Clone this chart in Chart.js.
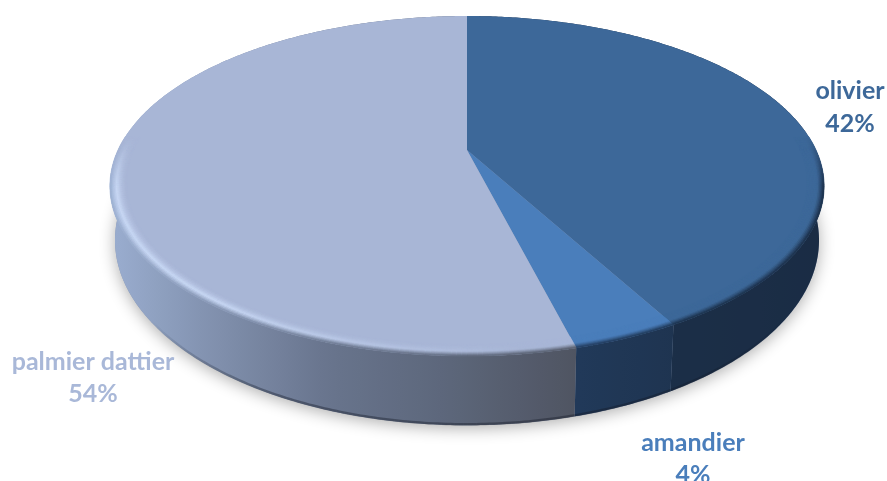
<!DOCTYPE html>
<html lang="fr">
<head>
  <meta charset="UTF-8" />
  <title>Répartition des arbres</title>
  <script src="https://cdn.jsdelivr.net/npm/chart.js"></script>
  <style>
    body { margin: 0; background: #fff; }
    canvas { display: block; }
  </style>
</head>
<body>
  <canvas id="pieChart" width="887" height="481"></canvas>

  <script>
    const categories = ["olivier", "amandier", "palmier dattier"];
    const shares = [42, 4, 54];
    const sliceColors = ["#3d6899", "#4a7ebb", "#a8b6d6"];
    const labelColors = ["#3d6899", "#4a7ebb", "#a9b8d8"];

    // perspective disc: top face and the (slightly smaller, lower) bottom face
    const K = -0.212;
    const topFace = { cx: 467, cy: 150, rx: 349, ry: 162.4 };
    const bottomFace = { cx: 467, cy: 201, rx: 344, ry: 176.7 };
    const BEVEL = 0.046;

    // label centres for each category: [x, first line y, second line y]
    const labelSpots = [[850, 91, 124], [693, 443, 475], [93, 362, 394]];

    const wallStops = [
      [ // olivier
        [560, [28, 48, 74]], [830, [26, 44, 68]]
      ],
      [ // amandier
        [570, [33, 57, 90]], [680, [30, 52, 80]]
      ],
      [ // palmier dattier
        [110, [154, 174, 208]], [200, [132, 148, 178]], [330, [104, 116, 140]],
        [450, [92, 102, 122]], [585, [78, 83, 96]]
      ]
    ];

    function clamp(a) { return Math.max(0, Math.min(1, a)); }
    function mix(a, b, t) { return a.map((c, i) => c + (b[i] - c) * t); }
    function rgb(c) { return `rgb(${c.map(Math.round).join(",")})`; }
    function hexRgb(h) { return [1, 3, 5].map(i => parseInt(h.substr(i, 2), 16)); }

    function wallAt(index, x) {
      const s = wallStops[index];
      if (x <= s[0][0]) return s[0][1];
      for (let i = 1; i < s.length; i++) {
        if (x <= s[i][0]) return mix(s[i - 1][1], s[i][1], (x - s[i - 1][0]) / (s[i][0] - s[i - 1][0]));
      }
      return s[s.length - 1][1];
    }

    function project(face, theta, r) {
      const u = r * Math.sin(theta), v = -r * Math.cos(theta), d = 1 + K * v;
      return [face.cx + face.rx * u / d, face.cy + face.ry * v / d];
    }

    function tracePath(ctx, pts) {
      ctx.beginPath();
      pts.forEach((p, i) => i ? ctx.lineTo(p[0], p[1]) : ctx.moveTo(p[0], p[1]));
      ctx.closePath();
    }

    function sweep(a, b, step) {
      const out = [];
      const n = Math.max(2, Math.ceil((b - a) / step));
      for (let i = 0; i <= n; i++) out.push(a + (b - a) * i / n);
      return out;
    }

    function drawWall(ctx, index, a, b) {
      const angles = sweep(a, b, 0.01);
      const upper = angles.map(t => project(topFace, t, 1));
      const lower = angles.map(t => project(bottomFace, t, 1));
      const g = ctx.createLinearGradient(100, 0, 840, 0);
      for (let x = 100; x <= 840; x += 20) g.addColorStop((x - 100) / 740, rgb(wallAt(index, x)));
      tracePath(ctx, upper.concat(lower.reverse()));
      ctx.fillStyle = g;
      ctx.fill();

      // darker lip along the lower edge, only towards the front
      for (let i = 0; i < angles.length - 1; i++) {
        const tm = (angles[i] + angles[i + 1]) / 2;
        const p0 = project(bottomFace, angles[i], 1), p1 = project(bottomFace, angles[i + 1], 1);
        ctx.beginPath();
        ctx.moveTo(p0[0], p0[1] - 1);
        ctx.lineTo(p1[0], p1[1] - 1);
        ctx.strokeStyle = `rgba(20,26,38,${0.4 * clamp((-Math.cos(tm) - 0.6) / 0.3)})`;
        ctx.lineWidth = 2.5;
        ctx.stroke();
      }
    }

    function drawBevel(ctx, index, a, b, face) {
      const glint = [206, 222, 250];
      const layers = 12;
      const angles = sweep(a, b, 0.012);
      for (let i = 0; i < angles.length - 1; i++) {
        const t0 = angles[i], t1 = angles[i + 1], tm = (t0 + t1) / 2;
        const front = clamp((-Math.cos(tm) + 0.08) / 0.3);
        if (front <= 0) continue;
        const deg = tm * 180 / Math.PI;
        const lit = index === 2 ? clamp((deg - 172) / 45) * clamp((305 - deg) / 40) : 0;
        for (let l = 0; l < layers; l++) {
          const t = (l + 0.5) / layers;
          const r0 = 1 - BEVEL * (1 - l / layers), r1 = 1 - BEVEL * (1 - (l + 1) / layers);
          const mid = project(topFace, tm, (r0 + r1) / 2);
          let c = mix(face, glint, lit * clamp(t / 0.6) ** 2 * 0.85);
          c = mix(c, wallAt(index, mid[0]), clamp((t - 0.6) / 0.4) ** 1.2);
          c = mix(face, c, front);
          const pts = [project(topFace, t0, r0), project(topFace, t1, r0), project(topFace, t1, r1), project(topFace, t0, r1)];
          tracePath(ctx, pts);
          ctx.fillStyle = ctx.strokeStyle = rgb(c);
          ctx.lineWidth = 0.6;
          ctx.fill();
          ctx.stroke();
        }
      }
    }

    const disc3d = {
      id: "disc3d",
      beforeDatasetsDraw(chart) {
        const ctx = chart.ctx;
        const arcs = chart.getDatasetMeta(0).data.map((arc, i) => ({
          index: i,
          a: arc.startAngle + Math.PI / 2,
          b: arc.endAngle + Math.PI / 2
        }));

        // soft shadow under the disc
        ctx.save();
        ctx.shadowColor = "rgba(0,0,0,0.32)";
        ctx.shadowBlur = 16;
        ctx.shadowOffsetY = 3;
        ctx.fillStyle = "#8896b0";
        tracePath(ctx, sweep(0, Math.PI * 2, 0.02).map(t => project(bottomFace, t, 1)));
        ctx.fill();
        ctx.restore();

        arcs.forEach(s => drawWall(ctx, s.index, s.a, s.b));

        arcs.forEach(s => {
          const rim = sweep(s.a, s.b, 0.01).map(t => project(topFace, t, 1));
          tracePath(ctx, [[topFace.cx, topFace.cy]].concat(rim));
          ctx.fillStyle = sliceColors[s.index];
          ctx.fill();
        });

        arcs.forEach(s => drawBevel(ctx, s.index, s.a, s.b, hexRgb(sliceColors[s.index])));

        return false; // the round arcs of the pie are replaced by the disc
      },
      afterDraw(chart) {
        const ctx = chart.ctx;
        ctx.save();
        ctx.font = "bold 25px Lato";
        ctx.textAlign = "center";
        ctx.textBaseline = "middle";
        categories.forEach((name, i) => {
          ctx.fillStyle = labelColors[i];
          ctx.fillText(name, labelSpots[i][0], labelSpots[i][1]);
          ctx.fillText(`${shares[i]}%`, labelSpots[i][0], labelSpots[i][2]);
        });
        ctx.restore();
      }
    };

    new Chart(document.getElementById("pieChart"), {
      type: "pie",
      data: {
        labels: categories,
        datasets: [{ data: shares, backgroundColor: sliceColors, borderWidth: 0 }]
      },
      options: {
        responsive: false,
        animation: false,
        devicePixelRatio: 1,
        plugins: { legend: { display: false }, tooltip: { enabled: false } }
      },
      plugins: [disc3d]
    });
  </script>
</body>
</html>
